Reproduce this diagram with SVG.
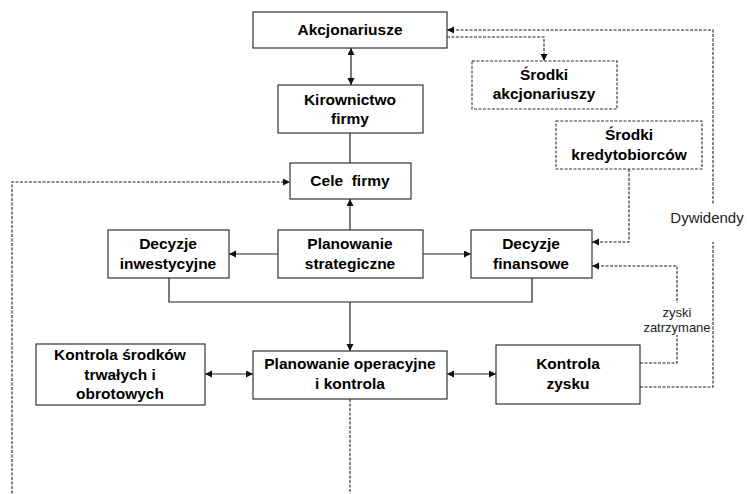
<svg xmlns="http://www.w3.org/2000/svg" width="747" height="494" viewBox="0 0 747 494">
<defs>
<marker id="ah" markerUnits="userSpaceOnUse" markerWidth="8" markerHeight="8" refX="7" refY="3.5" orient="auto-start-reverse"><path d="M0,0 L7,3.5 L0,7 z" fill="#111"/></marker>
<style>
.box{fill:#fff;stroke:#333;stroke-width:1.2}
.dbox{fill:#fff;stroke:#333;stroke-width:1.1;stroke-dasharray:3,1.5}
.t{font-family:"Liberation Sans",Arial,sans-serif;font-weight:bold;font-size:15.5px;fill:#000;text-anchor:middle}
.lbl{font-family:"Liberation Sans",Arial,sans-serif;font-size:15px;fill:#222;text-anchor:middle}
.sm{font-family:"Liberation Sans",Arial,sans-serif;font-size:13px;fill:#222;text-anchor:middle}
.ln{fill:none;stroke:#222;stroke-width:1.2}
.dl{fill:none;stroke:#222;stroke-width:1.1;stroke-dasharray:3,1.5}
</style>
</defs>
<rect width="747" height="494" fill="#fff"/>
<g id="connectors">
<line class="ln" x1="351" y1="48" x2="351" y2="85" marker-start="url(#ah)" marker-end="url(#ah)"/>
<line class="ln" x1="350" y1="133" x2="350" y2="163"/>
<line class="ln" x1="350" y1="230" x2="350" y2="199" marker-end="url(#ah)"/>
<line class="ln" x1="278" y1="254" x2="229" y2="254" marker-end="url(#ah)"/>
<line class="ln" x1="423" y1="254" x2="471" y2="254" marker-end="url(#ah)"/>
<polyline class="ln" points="169,278 169,302 532,302 532,278"/>
<line class="ln" x1="350" y1="302" x2="350" y2="351" marker-end="url(#ah)"/>
<line class="ln" x1="205" y1="374" x2="253" y2="374" marker-start="url(#ah)" marker-end="url(#ah)"/>
<line class="ln" x1="447" y1="374" x2="496" y2="374" marker-start="url(#ah)" marker-end="url(#ah)"/>
<polyline class="dl" points="350,399 350,500 12,500 12,182 290,182" marker-end="url(#ah)"/>
<polyline class="dl" points="447,37 544,37 544,61" marker-end="url(#ah)"/>
<polyline class="dl" points="629,169 629,242 592,242" marker-end="url(#ah)"/>
<polyline class="dl" points="640,363 677,363 677,266 592,266" marker-end="url(#ah)"/>
<polyline class="dl" points="640,387 713,387 713,30 447,30" marker-end="url(#ah)"/>
<rect x="670" y="205" width="77" height="37" fill="#fff"/>
<text class="lbl" x="707" y="223">Dywidendy</text>
<rect x="643" y="303" width="68" height="32" fill="#fff"/>
<text class="sm" x="677" y="317">zyski</text>
<text class="sm" x="677" y="332">zatrzymane</text>
</g>
<g id="akcjonariusze"><rect class="box" x="253" y="12" width="194" height="36"/><text class="t" x="350" y="35">Akcjonariusze</text></g>
<g id="kierownictwo"><rect class="box" x="278" y="85" width="145" height="48"/><text class="t" x="350" y="105">Kirownictwo</text><text class="t" x="350" y="124">firmy</text></g>
<g id="cele"><rect class="box" x="290" y="163" width="121" height="36"/><text class="t" x="350" y="186" xml:space="preserve">Cele  firmy</text></g>
<g id="srodki-akcjonariuszy"><rect class="dbox" x="472" y="61" width="145" height="48"/><text class="t" x="544" y="80">Środki</text><text class="t" x="544" y="99">akcjonariuszy</text></g>
<g id="srodki-kredytobiorcow"><rect class="dbox" x="556" y="121" width="146" height="48"/><text class="t" x="629" y="140">Środki</text><text class="t" x="629" y="160">kredytobiorców</text></g>
<g id="decyzje-inwestycyjne"><rect class="box" x="108" y="230" width="121" height="48"/><text class="t" x="168" y="249">Decyzje</text><text class="t" x="168" y="269">inwestycyjne</text></g>
<g id="planowanie-strategiczne"><rect class="box" x="278" y="230" width="145" height="48"/><text class="t" x="350" y="249">Planowanie</text><text class="t" x="350" y="269">strategiczne</text></g>
<g id="decyzje-finansowe"><rect class="box" x="471" y="230" width="121" height="48"/><text class="t" x="531" y="249">Decyzje</text><text class="t" x="531" y="269">finansowe</text></g>
<g id="kontrola-srodkow"><rect class="box" x="36" y="344" width="169" height="61"/><text class="t" x="120" y="360">Kontrola środków</text><text class="t" x="120" y="380">trwałych i</text><text class="t" x="120" y="399">obrotowych</text></g>
<g id="planowanie-operacyjne"><rect class="box" x="253" y="351" width="194" height="48"/><text class="t" x="350" y="369">Planowanie operacyjne</text><text class="t" x="350" y="389">i kontrola</text></g>
<g id="kontrola-zysku"><rect class="box" x="496" y="345" width="144" height="59"/><text class="t" x="568" y="369">Kontrola</text><text class="t" x="568" y="389">zysku</text></g>
</svg>
